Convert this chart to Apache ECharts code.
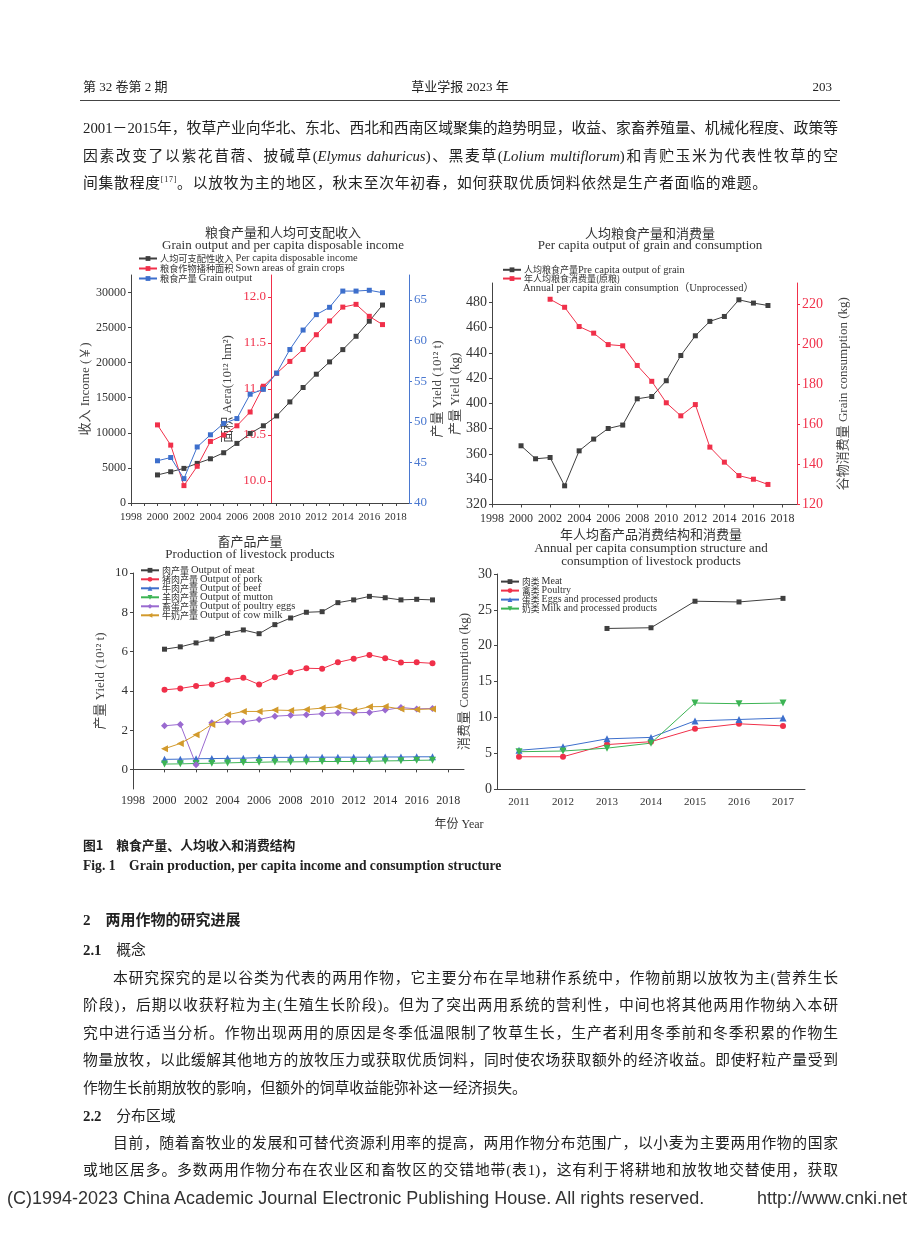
<!DOCTYPE html>
<html><head><meta charset="utf-8">
<script src="https://cdn.jsdelivr.net/npm/echarts@6/dist/echarts.min.js"></script>
<style>
html,body{margin:0;padding:0;background:#fff;}
#page{position:relative;width:920px;height:1240px;overflow:hidden;background:#fff;}
#chart{position:absolute;left:0;top:0;width:920px;height:1240px;z-index:0;}
.t{position:absolute;z-index:1;font-family:"Liberation Serif","Noto Sans CJK SC";color:#222;white-space:nowrap;line-height:20px;font-size:14.8px;}
.j{white-space:normal;text-align:justify;text-align-last:justify;}
.h{font-family:"Noto Sans CJK SC";font-weight:bold;}
sup{font-size:8px;line-height:0;vertical-align:6px;}
</style>
</head><body>
<div id="page">
<div id="chart"></div>
<div class="t" style="left:83px;top:77px;font-size:13px;">第 32 卷第 2 期</div>
<div class="t" style="left:360px;top:77px;width:200px;text-align:center;font-size:13px;">草业学报 2023 年</div>
<div class="t" style="left:800px;top:77px;width:32px;text-align:right;font-size:13px;">203</div>
<div style="position:absolute;left:80px;top:100px;width:760px;height:1px;background:#444;z-index:1;"></div>

<div class="t j" style="left:83px;top:118px;width:755px;">2001－2015年，牧草产业向华北、东北、西北和西南区域聚集的趋势明显，收益、家畜养殖量、机械化程度、政策等</div>
<div class="t j" style="left:83px;top:146px;width:755px;">因素改变了以紫花苜蓿、披碱草(<i>Elymus dahuricus</i>)、黑麦草(<i>Lolium multiflorum</i>)和青贮玉米为代表性牧草的空</div>
<div class="t" style="left:83px;top:173px;letter-spacing:0.75px;">间集散程度<sup>[17]</sup>。以放牧为主的地区，秋末至次年初春，如何获取优质饲料依然是生产者面临的难题。</div>

<div class="t h" style="left:83px;top:835px;font-size:12.8px;">图1　粮食产量、人均收入和消费结构</div>
<div class="t" style="left:83px;top:856px;font-size:13.6px;font-weight:bold;">Fig. 1　Grain production, per capita income and consumption structure</div>

<div class="t" style="left:83px;top:909px;font-size:15px;"><b>2</b>　<span class="h" style="font-size:15px;">两用作物的研究进展</span></div>
<div class="t" style="left:83px;top:940px;font-size:14.8px;"><b>2.1</b>　概念</div>
<div class="t j" style="left:113px;top:968px;width:725px;">本研究探究的是以谷类为代表的两用作物，它主要分布在旱地耕作系统中，作物前期以放牧为主(营养生长</div>
<div class="t j" style="left:83px;top:995px;width:755px;">阶段)，后期以收获籽粒为主(生殖生长阶段)。但为了突出两用系统的营利性，中间也将其他两用作物纳入本研</div>
<div class="t j" style="left:83px;top:1023px;width:755px;">究中进行适当分析。作物出现两用的原因是冬季低温限制了牧草生长，生产者利用冬季前和冬季积累的作物生</div>
<div class="t j" style="left:83px;top:1050px;width:755px;">物量放牧，以此缓解其他地方的放牧压力或获取优质饲料，同时使农场获取额外的经济收益。即使籽粒产量受到</div>
<div class="t" style="left:83px;top:1078px;">作物生长前期放牧的影响，但额外的饲草收益能弥补这一经济损失。</div>
<div class="t" style="left:83px;top:1106px;font-size:14.8px;"><b>2.2</b>　分布区域</div>
<div class="t j" style="left:113px;top:1133px;width:725px;">目前，随着畜牧业的发展和可替代资源利用率的提高，两用作物分布范围广，以小麦为主要两用作物的国家</div>
<div class="t j" style="left:83px;top:1160px;width:755px;">或地区居多。多数两用作物分布在农业区和畜牧区的交错地带(表1)，这有利于将耕地和放牧地交替使用，获取</div>
<div class="t" style="left:7px;top:1188px;font-family:'Liberation Sans';font-size:18px;color:#333;">(C)1994-2023 China Academic Journal Electronic Publishing House. All rights reserved.</div>
<div class="t" style="left:757px;top:1188px;font-family:'Liberation Sans';font-size:18px;color:#333;">http://www.cnki.net</div>
</div>
<script>
// ---------- data ----------
const years = [2000,2001,2002,2003,2004,2005,2006,2007,2008,2009,2010,2011,2012,2013,2014,2015,2016,2017];
const income = [4000,4450,4930,5640,6300,7160,8490,9910,11000,12400,14400,16450,18350,20100,21850,23750,25900,28200];
const sownArea = [10.61,10.39,9.95,10.16,10.43,10.50,10.60,10.75,11.03,11.17,11.30,11.43,11.59,11.74,11.89,11.92,11.79,11.70];
const grainOutput = [45.2,45.6,43.0,46.9,48.4,49.8,50.4,53.4,54.0,56.0,58.9,61.3,63.2,64.1,66.1,66.1,66.2,65.9];
const grainPerCapita = [366.5,356.2,357.2,334.8,362.5,371.8,380.2,382.9,403.7,405.5,418.0,438.0,453.6,465.0,468.9,482.1,479.5,477.6];
const grainConsumption = [null,null,222.3,218.3,208.7,205.4,199.7,199.1,189.3,181.4,170.7,164.2,169.8,148.6,141.1,134.4,132.6,130.0];
const meat = [6.12,6.24,6.44,6.63,6.93,7.10,6.91,7.37,7.71,8.00,8.03,8.49,8.63,8.81,8.74,8.63,8.66,8.63];
const pork = [4.05,4.12,4.25,4.32,4.56,4.66,4.32,4.69,4.95,5.15,5.13,5.45,5.63,5.83,5.66,5.44,5.45,5.40];
const beef = [0.51,0.52,0.54,0.55,0.56,0.57,0.60,0.61,0.61,0.62,0.62,0.62,0.62,0.62,0.63,0.63,0.64,0.64];
const mutton = [0.27,0.28,0.30,0.31,0.33,0.35,0.36,0.38,0.38,0.39,0.40,0.40,0.40,0.41,0.43,0.44,0.46,0.47];
const eggs = [2.22,2.29,0.24,2.37,2.42,2.42,2.54,2.71,2.75,2.78,2.83,2.88,2.88,2.90,3.02,3.15,3.08,3.10];
const milk = [1.05,1.32,1.76,2.29,2.78,2.95,2.95,3.02,3.00,3.05,3.12,3.19,3.00,3.19,3.20,3.07,3.05,3.08];
const consYears = ['2011','2012','2013','2014','2015','2016','2017'];
const consMeat = [null,null,22.4,22.5,26.2,26.1,26.6];
const consPoultry = [4.5,4.5,6.2,6.6,8.4,9.1,8.8];
const consEggs = [5.4,5.9,7.0,7.2,9.5,9.7,9.9];
const consMilk = [5.2,5.3,5.7,6.4,12.0,11.9,12.0];
const yearTicks = [1998,2000,2002,2004,2006,2008,2010,2012,2014,2016,2018];
const yearMinor = [1998,1999,2000,2001,2002,2003,2004,2005,2006,2007,2008,2009,2010,2011,2012,2013,2014,2015,2016,2017,2018];
const incomeTicks = [0,5000,10000,15000,20000,25000,30000];
const areaTicks = [10,10.5,11,11.5,12];
const outputTicks = [40,45,50,55,60,65];
const perCapTicks = [320,340,360,380,400,420,440,460,480];
const consTicks = [120,140,160,180,200,220];
const livestockTicks = [0,2,4,6,8,10];

// ---------- styles ----------
const C = {black:'#3f3f3f', red:'#f0304a', blue:'#3d6fcc', green:'#3cb454', purple:'#9a6ad0', gold:'#d29a2c', text:'#333'};
const SERIF = '"Liberation Serif","Noto Sans CJK SC"';
const pairs = arr => years.map((y,i)=>[y,arr[i]]);

function xYear(gi, fs, ticks, margin){
  return {type:'value', gridIndex:gi, min:1998, max:2019,
    axisLine:{lineStyle:{color:'#444'}}, splitLine:{show:false},
    axisTick:{customValues:ticks, length:3, lineStyle:{color:'#444'}},
    axisLabel:{customValues:yearTicks, fontFamily:SERIF, fontSize:fs, color:C.text, margin:margin,
      formatter:v=>String(v)}};
}
function yVal(gi, o){
  const col = o.color || '#444';
  return {type:'value', gridIndex:gi, min:o.min, max:o.max, position:o.pos||'left', offset:o.offset||0,
    name:o.name, nameLocation:'middle', nameGap:o.gap, nameRotate:90,
    nameTextStyle:{fontFamily:SERIF, fontSize:13, color:'#444'},
    axisLine:{show:true, lineStyle:{color:col}}, splitLine:{show:false},
    axisTick:{show:true, customValues:o.ticks, length:3, lineStyle:{color:col}},
    axisLabel:{customValues:o.ticks, fontFamily:SERIF, fontSize:o.fs, color:o.lcolor||C.text, margin:5,
      formatter:o.fmt || (v=>String(v))}};
}
function line(name, xi, yi, data, color, symbol, size, rot){
  return {name, type:'line', xAxisIndex:xi, yAxisIndex:yi, data, symbol, symbolSize:size||5,
    symbolRotate:rot||0, connectNulls:false,
    lineStyle:{color, width:1}, itemStyle:{color}, emphasis:{disabled:true}};
}
function legend(left, top, names, lh, cfs, efs, gap){
  return {left, top, orient:'vertical', padding:0, itemGap:gap, itemWidth:18, itemHeight:6,
    data:names, selectedMode:false,
    formatter:function(name){
      const m = name.match(/^([^A-Za-z]*)(.*)$/);
      return (m[1] ? '{c|'+m[1]+'}' : '') + (m[2] ? '{e|'+m[2]+'}' : '');
    },
    textStyle:{fontFamily:SERIF, fontSize:10, color:C.text, lineHeight:lh, padding:[0,0,0,-2],
      rich:{c:{fontFamily:'"Noto Sans CJK SC"', fontSize:cfs, color:C.text, lineHeight:lh},
            e:{fontFamily:'"Liberation Serif"', fontSize:efs, color:C.text, lineHeight:lh}}}};
}
function gtext(x, y, text, font, align){
  return {type:'text', x, y, silent:true,
    style:{text, font, fill:C.text, align:align||'center', verticalAlign:'middle', textAlign:align||'center', textVerticalAlign:'middle'}};
}

const chart = echarts.init(document.getElementById('chart'), null, {renderer:'canvas'});
const n1 = ['人均可支配性收入 Per capita disposable income','粮食作物播种面积 Sown areas of grain crops','粮食产量 Grain output'];
const n2 = ['人均粮食产量Pre capita output of grain','年人均粮食消费量(原粮)'];
const n3 = ['肉产量 Output of meat','猪肉产量 Output of pork','牛肉产量 Output of beef','羊肉产量 Output of mutton','畜蛋产量 Output of poultry eggs','牛奶产量 Output of cow milk'];
const n4 = ['肉类 Meat','禽类 Poultry','蛋类 Eggs and processed products','奶类 Milk and processed products'];

chart.setOption({
  animation:false,
  backgroundColor:'transparent',
  grid:[
    {left:131, top:275, width:278, height:228},
    {left:492, top:283, width:305, height:221.5},
    {left:133, top:573, width:331, height:216},
    {left:497, top:574, width:308, height:215}
  ],
  xAxis:[
    xYear(0, 11, yearMinor, 9),
    xYear(1, 12, yearTicks, 8),
    xYear(2, 12, yearTicks, 6),
    {type:'category', gridIndex:3, data:consYears, boundaryGap:true,
      axisLine:{lineStyle:{color:'#444'}}, axisTick:{alignWithLabel:true, length:3, lineStyle:{color:'#444'}},
      axisLabel:{fontFamily:SERIF, fontSize:11, color:C.text, margin:8}}
  ],
  yAxis:[
    yVal(0,{min:0,max:32480,ticks:incomeTicks,fs:12,name:'收入 Income (￥)',gap:38}),
    yVal(0,{min:9.761,max:12.239,ticks:areaTicks,fs:13,offset:-140,color:C.red,lcolor:C.red,
      name:'面积 Aera(10¹² hm²)',gap:37,fmt:v=>v.toFixed(1)}),
    yVal(0,{min:40,max:68.08,ticks:outputTicks,fs:13,pos:'right',color:'#4a78d0',lcolor:'#4a78d0',
      name:'产量 Yield (10¹² t)',gap:22}),
    yVal(1,{min:320,max:495.4,ticks:perCapTicks,fs:14,name:'产量 Yield (kg)',gap:29}),
    yVal(1,{min:120,max:230.4,ticks:consTicks,fs:14,pos:'right',color:C.red,lcolor:C.red,
      name:'谷物消费量 Grain consumption (kg)',gap:40}),
    yVal(2,{min:-1,max:10,ticks:livestockTicks,fs:13,name:'产量 Yield (10¹² t)',gap:26}),
    {type:'value', gridIndex:3, min:0, max:30, interval:5,
      name:'消费量 Consumption (kg)', nameLocation:'middle', nameGap:26, nameRotate:90,
      nameTextStyle:{fontFamily:SERIF, fontSize:13, color:'#444'},
      axisLine:{show:true, lineStyle:{color:'#444'}}, splitLine:{show:false},
      axisTick:{show:true, length:3, lineStyle:{color:'#444'}},
      axisLabel:{fontFamily:SERIF, fontSize:14, color:C.text, margin:5}}
  ],
  legend:[
    legend(138, 253, n1, 9.5, 9.2, 10.5, -1),
    legend(502, 264.3, n2, 9.5, 9, 10.5, -1.5),
    legend(140, 564.8, n3, 9, 9, 10.5, -2),
    legend(500, 576.6, n4, 8.8, 8.8, 10, -1)
  ],
  graphic:[
    gtext(283, 232, '粮食产量和人均可支配收入', '13px "Noto Sans CJK SC"'),
    gtext(283, 245.5, 'Grain output and per capita disposable income', '13px "Liberation Serif"'),
    gtext(650, 233, '人均粮食产量和消费量', '13px "Noto Sans CJK SC"'),
    gtext(650, 245.5, 'Per capita output of grain and consumption', '13px "Liberation Serif"'),
    gtext(523, 288.5, 'Annual per capita grain consumption（Unprocessed）', '10.5px "Liberation Serif","Noto Sans CJK SC"', 'left'),
    gtext(250, 541, '畜产品产量', '13px "Noto Sans CJK SC"'),
    gtext(250, 555, 'Production of livestock products', '13px "Liberation Serif"'),
    gtext(651, 534, '年人均畜产品消费结构和消费量', '13px "Noto Sans CJK SC"'),
    gtext(651, 548.5, 'Annual per capita consumption structure and', '13px "Liberation Serif"'),
    gtext(651, 562, 'consumption of livestock products', '13px "Liberation Serif"'),
    gtext(459, 825, '年份 Year', '12px "Liberation Serif","Noto Sans CJK SC"')
  ],
  series:[
    line(n1[0],0,0,pairs(income),C.black,'rect',5),
    line(n1[1],0,1,pairs(sownArea),C.red,'rect',5),
    line(n1[2],0,2,pairs(grainOutput),C.blue,'rect',5),
    line(n2[0],1,3,pairs(grainPerCapita),C.black,'rect',5),
    line(n2[1],1,4,pairs(grainConsumption),C.red,'rect',5),
    line(n3[0],2,5,pairs(meat),C.black,'rect',5),
    line(n3[1],2,5,pairs(pork),C.red,'circle',6),
    line(n3[2],2,5,pairs(beef),C.blue,'triangle',7),
    line(n3[3],2,5,pairs(mutton),C.green,'triangle',7,180),
    line(n3[4],2,5,pairs(eggs),C.purple,'diamond',7),
    line(n3[5],2,5,pairs(milk),C.gold,'triangle',7,90),
    line(n4[0],3,6,consMeat,C.black,'rect',5),
    line(n4[1],3,6,consPoultry,C.red,'circle',6),
    line(n4[2],3,6,consEggs,C.blue,'triangle',7),
    line(n4[3],3,6,consMilk,C.green,'triangle',7,180)
  ]
});
</script>
</body></html>
